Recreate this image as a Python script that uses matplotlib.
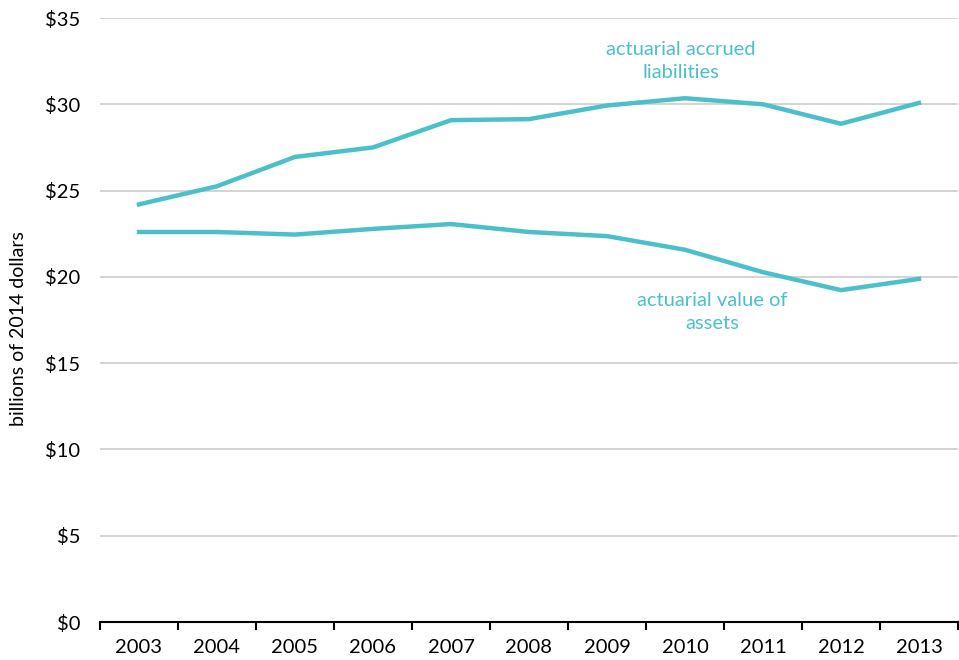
import matplotlib
matplotlib.use("Agg")
import matplotlib.pyplot as plt
from matplotlib.ticker import FixedLocator

years = ["2003", "2004", "2005", "2006", "2007", "2008", "2009", "2010", "2011", "2012", "2013"]
liabilities = [24.2, 25.25, 26.95, 27.5, 29.08, 29.14, 29.93, 30.35, 30.0, 28.87, 30.08]
assets = [22.6, 22.6, 22.45, 22.78, 23.06, 22.6, 22.36, 21.57, 20.27, 19.23, 19.88]
yticks = [0, 5, 10, 15, 20, 25, 30, 35]
ytick_labels = ["$0", "$5", "$10", "$15", "$20", "$25", "$30", "$35"]

teal = "#4BC0CB"
plt.rcParams['font.family'] = ['Lato', 'DejaVu Sans']

fig = plt.figure(figsize=(9.59, 6.6), dpi=100)
W, H = 959, 660
ax = fig.add_axes([100 / W, 1 - 622 / H, 858 / W, (622 - 18) / H])

x = list(range(len(years)))
ax.plot(x, liabilities, color=teal, lw=3.2, solid_joinstyle='miter')
ax.plot(x, assets, color=teal, lw=3.2, solid_joinstyle='miter')

ax.set_xlim(-0.5, len(years) - 0.5)
ax.set_ylim(0, 35)
ax.set_yticks(yticks)
ax.set_yticklabels(ytick_labels, fontsize=14.5)
ax.set_xticks(x)
ax.set_xticklabels(years, fontsize=14.5)
ax.xaxis.set_minor_locator(FixedLocator([i - 0.5 for i in range(len(years) + 1)]))
ax.tick_params(axis='x', which='major', length=0, pad=12)
ax.tick_params(axis='x', which='minor', length=6, width=1.5, direction='out', color='black')
ax.tick_params(axis='y', length=0, pad=14)

ax.yaxis.grid(True, color='#cccccc', lw=1.2)
ax.set_axisbelow(True)
for s in ['top', 'right', 'left']:
    ax.spines[s].set_visible(False)
ax.spines['bottom'].set_linewidth(1.5)
ax.spines['bottom'].set_color('black')

ax.set_ylabel("billions of 2014 dollars", fontsize=14)
ax.yaxis.set_label_coords(-73 / 858, 0.485)

ax.text(6.95, 32.5, "actuarial accrued\nliabilities", color=teal, fontsize=14.5,
        ha='center', va='center', linespacing=1.45)
ax.text(7.35, 17.95, "actuarial value of\nassets", color=teal, fontsize=14.5,
        ha='center', va='center', linespacing=1.45)

fig.savefig("out.png", dpi=100)
